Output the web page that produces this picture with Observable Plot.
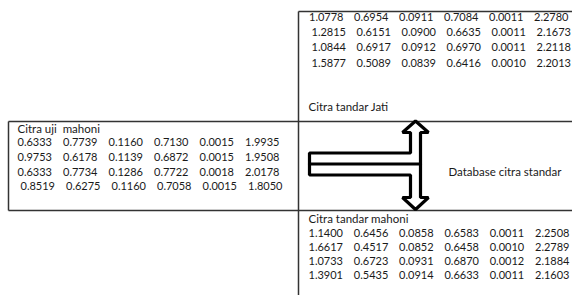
<!DOCTYPE html>
<html>
<head>
<meta charset="utf-8">
<script src="https://cdn.jsdelivr.net/npm/d3@7"></script>
<script src="https://cdn.jsdelivr.net/npm/@observablehq/plot@0.6"></script>
<style>
  html, body { margin: 0; padding: 0; background: #fff; }
  #chart svg { display: block; }
</style>
</head>
<body>
<div id="chart"></div>
<script>
// ---- Data ----
const jatiRows = [
  ["1.0778", "0.6954", "0.0911", "0.7084", "0.0011", "2.2780"],
  ["1.2815", "0.6151", "0.0900", "0.6635", "0.0011", "2.1673"],
  ["1.0844", "0.6917", "0.0912", "0.6970", "0.0011", "2.2118"],
  ["1.5877", "0.5089", "0.0839", "0.6416", "0.0010", "2.2013"]
];
const ujiMahoniRows = [
  ["0.6333", "0.7739", "0.1160", "0.7130", "0.0015", "1.9935"],
  ["0.9753", "0.6178", "0.1139", "0.6872", "0.0015", "1.9508"],
  ["0.6333", "0.7734", "0.1286", "0.7722", "0.0018", "2.0178"],
  ["0.8519", "0.6275", "0.1160", "0.7058", "0.0015", "1.8050"]
];
const mahoniRows = [
  ["1.1400", "0.6456", "0.0858", "0.6583", "0.0011", "2.2508"],
  ["1.6617", "0.4517", "0.0852", "0.6458", "0.0010", "2.2789"],
  ["1.0733", "0.6723", "0.0931", "0.6870", "0.0012", "2.1884"],
  ["1.3901", "0.5435", "0.0914", "0.6633", "0.0011", "2.1603"]
];
const labels = ["Citra tandar Jati", "Citra uji\u00a0 mahoni", "Citra tandar mahoni", "Database citra standar"];

// ---- Layout (diagram geometry, pixel space) ----
const W = 572, H = 295;
const tables = [
  {rows: jatiRows, x0: 308.5, y0: 17, dy: 15.2, colW: 45.0, indent: [0, 2.5, 2.5, 2.5]},
  {rows: ujiMahoniRows, x0: 17, y0: 142, dy: 14.8, colW: 45.5, indent: [0, 0, 0, 3]},
  {rows: mahoniRows, x0: 308, y0: 232.5, dy: 14.3, colW: 45.3, indent: [0, 0, 0, 0]}
];
const labelPos = [[308, 107], [17, 129], [308, 218.5], [448, 171.5]];
const borders = [
  [298, 11, 572, 11], [298, 11, 298, 295],
  [8, 121, 572, 121], [8, 210, 572, 210], [8, 121, 8, 210]
];
const arrowOutline = [
  [360, 152.5], [410, 152.5], [410, 132], [402, 132], [415, 120.5], [428, 132], [420, 132],
  [420, 197], [428, 197], [415, 209], [402, 197], [410, 197], [410, 174.5], [309, 174.5],
  [309, 152.5], [360, 152.5]
];
const arrowMid = [[309, 163.5], [420, 163.5]];

const cells = tables.flatMap(t => t.rows.flatMap((row, r) => row.map((v, c) => ({
  text: v, x: t.x0 + t.indent[r] + c * t.colW, y: t.y0 + r * t.dy
}))));
const labelData = labels.map((s, i) => ({text: s, x: labelPos[i][0], y: labelPos[i][1]}));
const borderData = borders.map(([x1, y1, x2, y2]) => ({x1, y1, x2, y2}));

const chart = Plot.plot({
  width: W, height: H, margin: 0,
  x: {domain: [0, W], range: [0, W], axis: null},
  y: {domain: [0, H], range: [0, H], axis: null},
  style: {background: "#fff", fontFamily: "Lato, 'Liberation Sans', sans-serif"},
  marks: [
    Plot.link(borderData, {x1: "x1", y1: "y1", x2: "x2", y2: "y2", stroke: "#333", strokeWidth: 1.5}),
    Plot.line(arrowOutline, {x: d => d[0], y: d => d[1], stroke: "#000", strokeWidth: 3.2, strokeLinejoin: "miter", curve: "linear"}),
    Plot.line(arrowMid, {x: d => d[0], y: d => d[1], stroke: "#000", strokeWidth: 3.2}),
    Plot.text(cells, {x: "x", y: "y", text: "text", textAnchor: "start", fontSize: 11, fill: "#1a1a1a"}),
    Plot.text(labelData, {x: "x", y: "y", text: "text", textAnchor: "start", fontSize: 11.5, fill: "#1a1a1a"})
  ]
});
document.getElementById("chart").appendChild(chart);
</script>
</body>
</html>
